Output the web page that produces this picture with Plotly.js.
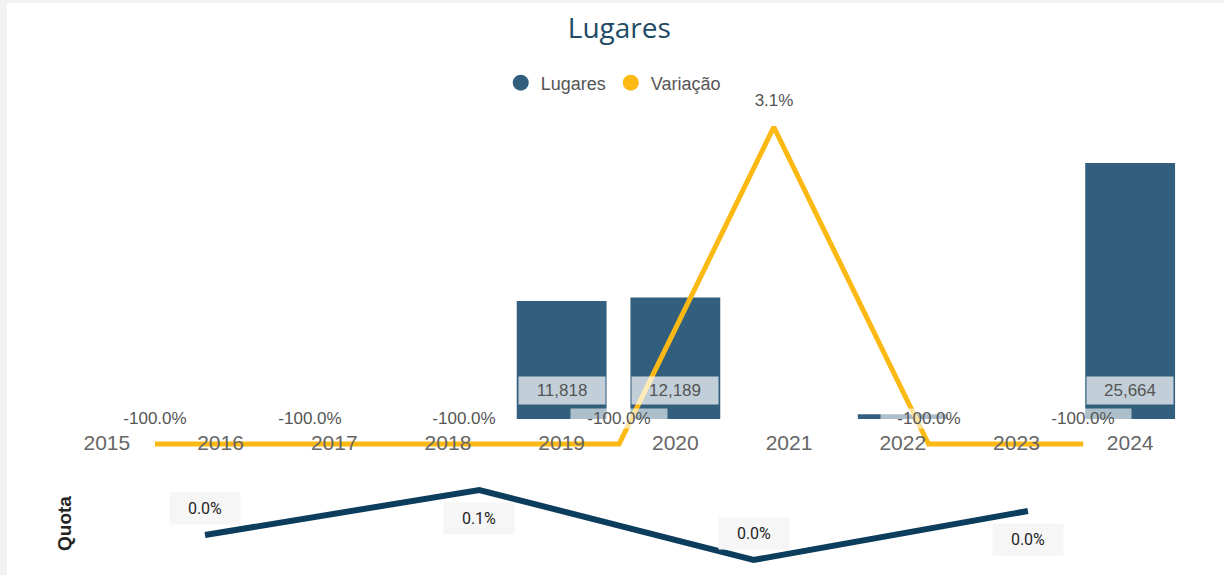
<!DOCTYPE html>
<html>
<head>
<meta charset="utf-8">
<script src="https://cdn.plot.ly/plotly-3.0.1.min.js"></script>
<style>
html,body{margin:0;padding:0;background:#ffffff;}
#chart{width:1224px;height:575px;}
</style>
</head>
<body>
<div id="chart"></div>
<script>
// ---- data ----
const anos = ['2015','2016','2017','2018','2019','2020','2021','2022','2023','2024'];
const lugares = [0, 0, 0, 0, 11818, 12189, 0, 480, 0, 25664];
const lugaresRotulos = [null, null, null, null, '11,818', '12,189', null, null, null, '25,664'];

const variacaoPontos = ['p1','p2','p3','p4','p5','p6','p7'];
const variacao = [-100.0, -100.0, -100.0, -100.0, 3.1, -100.0, -100.0];

const quotaPontos = ['q1','q2','q3','q4'];
const quota = [0.000325, 0.00055, 0.0002, 0.000445];
const quotaPosicao = ['above','below','above','below'];

// ---- styles ----
const corBarra = '#335f7e';
const corLinha = '#fdb913';
const corQuota = '#0c3d5c';
const W = 1224, H = 575;
const px = v => v / W;
const py = v => 1 - v / H;

const traces = [
  {type:'bar', x:anos, y:lugares, name:'Lugares', marker:{color:corBarra},
   showlegend:false, hoverinfo:'x+y', xaxis:'x', yaxis:'y'},
  {type:'scatter', mode:'lines', x:variacaoPontos, y:variacao, name:'Variação',
   line:{color:corLinha, width:5}, showlegend:false, xaxis:'x2', yaxis:'y2'},
  {type:'scatter', mode:'lines', x:quotaPontos, y:quota, name:'Quota',
   line:{color:corQuota, width:6}, showlegend:false, xaxis:'x3', yaxis:'y3'},
  // legend entries (circle symbols)
  {type:'scatter', mode:'markers', x:[null], y:[null], name:'Lugares',
   marker:{color:corBarra, size:20, symbol:'circle'}, xaxis:'x2', yaxis:'y2'},
  {type:'scatter', mode:'markers', x:[null], y:[null], name:'Variação',
   marker:{color:corLinha, size:20, symbol:'circle'}, xaxis:'x2', yaxis:'y2'}
];

const annotations = [];
anos.forEach((a,i) => {
  if (lugaresRotulos[i]) {
    annotations.push({x:i, y:0, xref:'x', yref:'y', text:lugaresRotulos[i],
      showarrow:false, yanchor:'middle', yshift:29,
      font:{family:'Liberation Sans, Arial, sans-serif', size:17, color:'#555555'},
      bgcolor:'rgba(255,255,255,0.7)', borderpad:4, width:78});
  }
});
variacaoPontos.forEach((p,i) => {
  annotations.push({x:i, y:variacao[i], xref:'x2', yref:'y2',
    text:(variacao[i]).toFixed(1) + '%', showarrow:false, yanchor:'middle', yshift:26,
    font:{family:'Liberation Sans, Arial, sans-serif', size:17, color:'#555555'},
    bgcolor:'rgba(255,255,255,0.6)', borderpad:0, width:96});
});
quotaPontos.forEach((p,i) => {
  annotations.push({x:i, y:quota[i], xref:'x3', yref:'y3',
    text:(quota[i]*100).toFixed(1) + '%', showarrow:false, yanchor:'middle',
    yshift: quotaPosicao[i]==='above' ? 27 : -28,
    font:{family:'Roboto, sans-serif', size:16, color:'#252423'},
    bgcolor:'#f6f6f6', borderpad:6, width:58});
});

const layout = {
  width:W, height:H,
  margin:{l:0, r:0, t:0, b:0},
  paper_bgcolor:'#ffffff', plot_bgcolor:'rgba(0,0,0,0)',
  title:{text:'Lugares', x:0.506, xanchor:'center', y:py(28), yanchor:'middle',
    font:{family:'Open Sans, sans-serif', size:28, color:'#1f4a66'}},
  showlegend:true,
  legend:{orientation:'h', x:0.501, xanchor:'center', y:py(83), yanchor:'middle',
    font:{family:'Liberation Sans, Arial, sans-serif', size:18, color:'#555555'},
    itemwidth:30, tracegroupgap:0, bgcolor:'rgba(0,0,0,0)'},
  bargap:0.21,
  xaxis:{domain:[px(50), px(1187)], anchor:'y', type:'category',
    range:[-0.5, anos.length - 0.5],
    showgrid:false, zeroline:false, showline:false, ticks:'',
    ticklabelposition:'inside', ticklabelstandoff:3,
    tickfont:{family:'Liberation Sans, Arial, sans-serif', size:21, color:'#666666'}},
  yaxis:{domain:[py(460), py(90)], anchor:'x',
    range:[-(460-419)/(256/25664), (419-90)/(256/25664)],
    visible:false, showgrid:false, zeroline:false},
  xaxis2:{overlaying:'x', anchor:'y2', type:'category', visible:false,
    range:[(50-155)/154.7, (1187-155)/154.7]},
  yaxis2:{overlaying:'y', anchor:'x2', visible:false,
    range:[-100 - (460-444)/(317/103.1), 3.1 + (127-90)/(317/103.1)]},
  xaxis3:{domain:[px(90), px(1187)], anchor:'y3', type:'category', visible:false,
    range:[(90-205)/274.3, (1187-205)/274.3]},
  yaxis3:{domain:[py(572), py(475)], anchor:'x3',
    range:[0.00055 - (572-490)*0.000005, 0.00055 + (490-475)*0.000005],
    showgrid:false, zeroline:false, showline:false, showticklabels:false, ticks:'',
    title:{text:'Quota', standoff:12,
      font:{family:'Liberation Sans, Arial, sans-serif', size:19, color:'#252423', weight:'bold'}}},
  annotations:annotations,
  shapes:[
    {type:'rect', xref:'paper', yref:'paper', x0:0, x1:px(7), y0:0, y1:1,
     fillcolor:'#f2f2f2', line:{width:0}, layer:'below'},
    {type:'rect', xref:'paper', yref:'paper', x0:0, x1:1, y0:py(3), y1:1,
     fillcolor:'#f2f2f2', line:{width:0}, layer:'below'}
  ]
};

Plotly.newPlot('chart', traces, layout, {displayModeBar:false, staticPlot:true});
</script>
</body>
</html>
